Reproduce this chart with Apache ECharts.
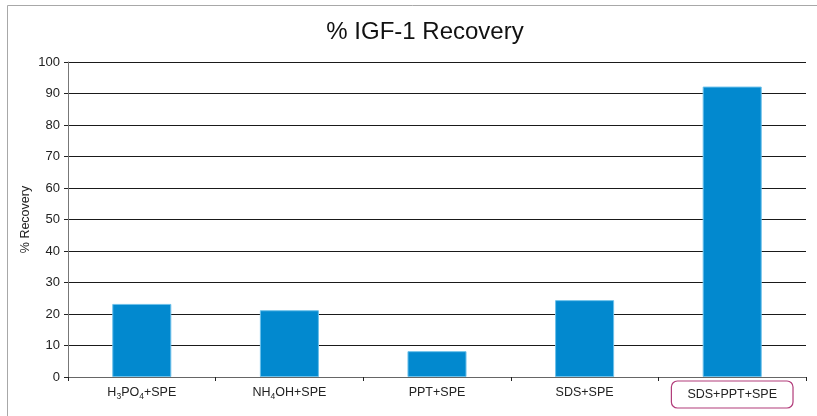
<!DOCTYPE html>
<html>
<head>
<meta charset="utf-8">
<script src="https://cdn.jsdelivr.net/npm/echarts@6/dist/echarts.min.js"></script>
<style>
  html, body { margin: 0; padding: 0; background: #fff; }
  #chart { width: 817px; height: 416px; }
</style>
</head>
<body>
<div id="chart"></div>
<script>
// Sample preparation methods and their recovery values (%)
const categories = ['H3PO4+SPE', 'NH4OH+SPE', 'PPT+SPE', 'SDS+SPE', 'SDS+PPT+SPE'];
const recovery = [23.2, 21.2, 8.2, 24.4, 92.2];
const yTicks = [0, 10, 20, 30, 40, 50, 60, 70, 80, 90, 100];
const highlighted = 'SDS+PPT+SPE';

// Rich-text label strings (subscripted digits in chemical formulas)
const richLabels = {
  'H3PO4+SPE': '{a|H}{s|3}{a|PO}{s|4}{a|+SPE}',
  'NH4OH+SPE': '{a|NH}{s|4}{a|OH+SPE}'
};

const chart = echarts.init(document.getElementById('chart'));

const xData = categories.map(c => {
  if (c === highlighted) {
    return {
      value: c,
      textStyle: {
        borderColor: '#b23c7a',
        borderWidth: 1.2,
        borderRadius: 6,
        padding: [5.5, 16, 5.5, 16]
      }
    };
  }
  return { value: c, textStyle: { padding: [4, 0, 0, 0] } };
});

const font = 'Liberation Sans';

chart.setOption({
  animation: false,
  backgroundColor: '#fff',
  title: {
    text: '% IGF-1 Recovery',
    left: 420,
    top: 15,
    textAlign: 'center',
    textStyle: { fontFamily: font, fontSize: 24, fontWeight: 'normal', color: '#111' }
  },
  graphic: [{
    type: 'rect',
    shape: { x: 7.5, y: 5.5, width: 830, height: 430 },
    style: { fill: 'none', stroke: '#a8a8a8', lineWidth: 1 },
    silent: true
  }],
  grid: { left: 68, right: 11, top: 62, bottom: 39 },
  xAxis: {
    type: 'category',
    data: xData,
    axisLine: { lineStyle: { color: '#666', width: 1 } },
    axisTick: { show: true, length: 4, lineStyle: { color: '#222' } },
    axisLabel: {
      interval: 0,
      margin: 4,
      formatter: v => richLabels[v] || '{a|' + v + '}',
      rich: {
        a: { fontFamily: font, fontSize: 12.5, color: '#222', verticalAlign: 'middle', lineHeight: 16 },
        s: { fontFamily: font, fontSize: 8.5, color: '#222', verticalAlign: 'bottom', lineHeight: 8, padding: [7, 0, 0, 0] }
      }
    }
  },
  yAxis: {
    type: 'value',
    min: 0,
    max: 100,
    interval: 10,
    name: '% Recovery',
    nameLocation: 'middle',
    nameGap: 36,
    nameMoveOverlap: false,
    nameRotate: 90,
    nameTextStyle: { fontFamily: font, fontSize: 12.5, color: '#222' },
    axisLine: { show: true, lineStyle: { color: '#777', width: 1 } },
    axisTick: { show: true, length: 4, lineStyle: { color: '#222' } },
    axisLabel: {
      margin: 8,
      fontFamily: font,
      fontSize: 13,
      color: '#222',
      formatter: v => (yTicks.includes(v) ? String(v) : '')
    },
    splitLine: { show: true, lineStyle: { color: '#1a1a1a', width: 1 } }
  },
  series: [{
    type: 'bar',
    data: recovery,
    barWidth: '40%',
    itemStyle: { color: '#0289cf', borderColor: '#6cc0ea', borderWidth: 1 }
  }]
});
</script>
</body>
</html>
